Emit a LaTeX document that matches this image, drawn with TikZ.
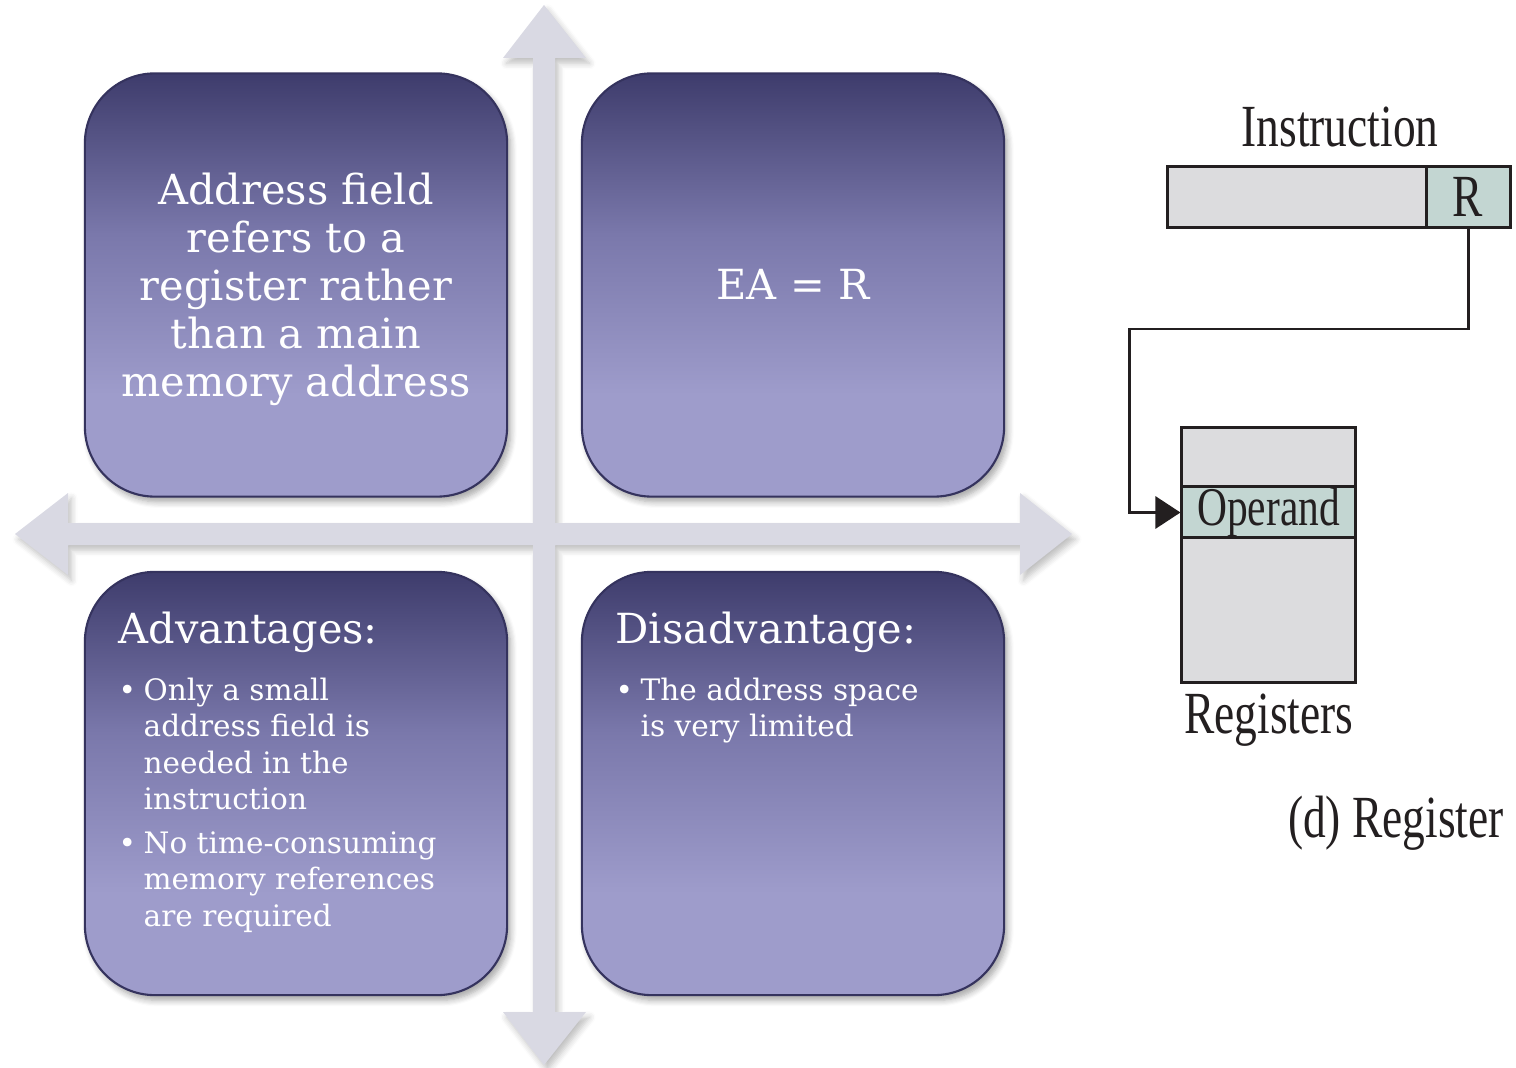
\documentclass[tikz,border=0pt]{standalone}
\usepackage{fontspec}
\usetikzlibrary{arrows.meta,shadows.blur}
\newfontfamily\tilefont{DejaVu Serif}
\newfontfamily\figfont[FakeStretch=0.76]{Liberation Serif}
\definecolor{tileTop}{HTML}{3E3C6C}
\definecolor{tileMid}{HTML}{7A78AB}
\definecolor{tileBot}{HTML}{9E9CCB}
\definecolor{tileEdge}{HTML}{35335E}
\definecolor{axisGray}{HTML}{D9D9E3}
\definecolor{cellGray}{HTML}{DCDCDE}
\definecolor{cellTeal}{HTML}{C3D6D2}
\definecolor{inkDark}{HTML}{231F20}
% vertical gradient of the tiles: light at the bottom, dark at the top
\pgfdeclareverticalshading{tileshade}{100bp}{color(0bp)=(tileBot); color(25bp)=(tileBot); color(37bp)=(tileBot); color(56bp)=(tileMid); color(75bp)=(tileTop); color(100bp)=(tileTop)}
% multi-line text whose baseline is that of its first line
\newcommand{\firstlines}[1]{\begin{tabular}[t]{@{}l@{}}#1\end{tabular}}
\tikzset{
  tile/.style={shade, shading=tileshade, draw=tileEdge, line width=0.6pt,
    rounded corners=0.7cm, minimum width=4.22cm, minimum height=4.23cm,
    inner sep=0pt, text=white, align=center,
    blur shadow={shadow xshift=1pt, shadow yshift=-1.5pt, shadow blur steps=6, shadow opacity=35}},
  axisarrow/.style={fill=axisGray, draw=none,
    blur shadow={shadow xshift=1pt, shadow yshift=-1.5pt, shadow blur steps=5, shadow opacity=25}},
  bigtext/.style={font=\tilefont\fontsize{11.8}{13.7}\selectfont},
  headtext/.style={text=white, inner sep=0pt, anchor=base west, font=\tilefont\fontsize{11.8}{14}\selectfont},
  itemtext/.style={text=white, inner sep=0pt, anchor=base west, font=\tilefont\fontsize{8.4}{10.4}\selectfont},
  bulletmark/.style={text=white, inner sep=0pt, anchor=base west, font=\tilefont\fontsize{8.4}{10.4}\selectfont},
  cell/.style={draw=inkDark, line width=0.85pt, inner sep=0pt},
  figtext/.style={text=inkDark, inner sep=0pt, font=\figfont\fontsize{17}{20}\selectfont},
  link/.style={draw=inkDark, line width=0.85pt, -{Triangle[length=0.25cm,width=0.32cm]}}
}
\begin{document}
\begin{tikzpicture}[x=0.01cm, y=-0.01cm]
\useasboundingbox (0,0) rectangle (1516,1067);

% crossing axes, one outline with four heads
\path[axisarrow] (544,5) -- (586,58) -- (555,58) -- (555,523) -- (1020,523) -- (1020,493)
  -- (1072,534) -- (1020,575) -- (1020,545) -- (555,545) -- (555,1012) -- (586,1012)
  -- (544,1065) -- (503,1012) -- (533,1012) -- (533,545) -- (68,545) -- (68,575)
  -- (15,534) -- (68,493) -- (68,523) -- (533,523) -- (533,58) -- (503,58) -- cycle;

% four tiles
\node[tile, bigtext] (desc) at (296,285) {};
\node[tile, bigtext] (ea) at (793,285) {};
\node[tile] (adv) at (296,783.5) {};
\node[tile] (dis) at (793,783.5) {};

% statement of the mode
\node[text=white, align=center, bigtext, inner sep=0pt, anchor=north] (desctext) at (296,172)
  {Address field\\refers to a\\register rather\\than a main\\memory address};
\node[text=white, bigtext, inner sep=0pt, anchor=base] (eatext) at (793,300) {EA = R};

% advantages
\node[headtext] (advhead) at (118,643) {Advantages:};
\node[bulletmark] (advb1) at (118,700) {\textbullet};
\node[itemtext] (advt1) at (143,700) {\firstlines{Only a small\\address field is\\needed in the\\instruction}};
\node[bulletmark] (advb2) at (118,853) {\textbullet};
\node[itemtext] (advt2) at (143,853) {\firstlines{No time-consuming\\memory references\\are required}};

% disadvantage
\node[headtext] (dishead) at (615,643) {Disadvantage:};
\node[bulletmark] (disb1) at (615,700) {\textbullet};
\node[itemtext] (dist1) at (640,700) {\firstlines{The address space\\is very limited}};

% register addressing figure
\node[figtext, anchor=base] (instr) at (1340,147) {Instruction};
\node[cell, fill=cellGray, minimum width=2.58cm, minimum height=0.6cm] (ifield) at (1297,197) {};
\node[cell, fill=cellTeal, minimum width=0.84cm, minimum height=0.6cm, figtext] (rfield) at (1468,197) {R};

\node[cell, fill=cellGray, minimum width=1.73cm, minimum height=0.59cm] (regtop) at (1268.5,457.5) {};
\node[cell, fill=cellTeal, minimum width=1.73cm, minimum height=0.51cm, figtext, font=\figfont\fontsize{15.5}{18}\selectfont] (opnd) at (1268.5,512.5) {Operand};
\node[cell, fill=cellGray, minimum width=1.73cm, minimum height=1.44cm] (regbot) at (1268.5,610) {};

\coordinate (elbow) at (1129,329);
\draw[link] (rfield.south) |- (elbow) |- (opnd.west);

\node[figtext, anchor=base] (reglabel) at (1269,733) {Registers};
\node[figtext, anchor=base] (caption) at (1396,837) {(d) Register};
\end{tikzpicture}
\end{document}
